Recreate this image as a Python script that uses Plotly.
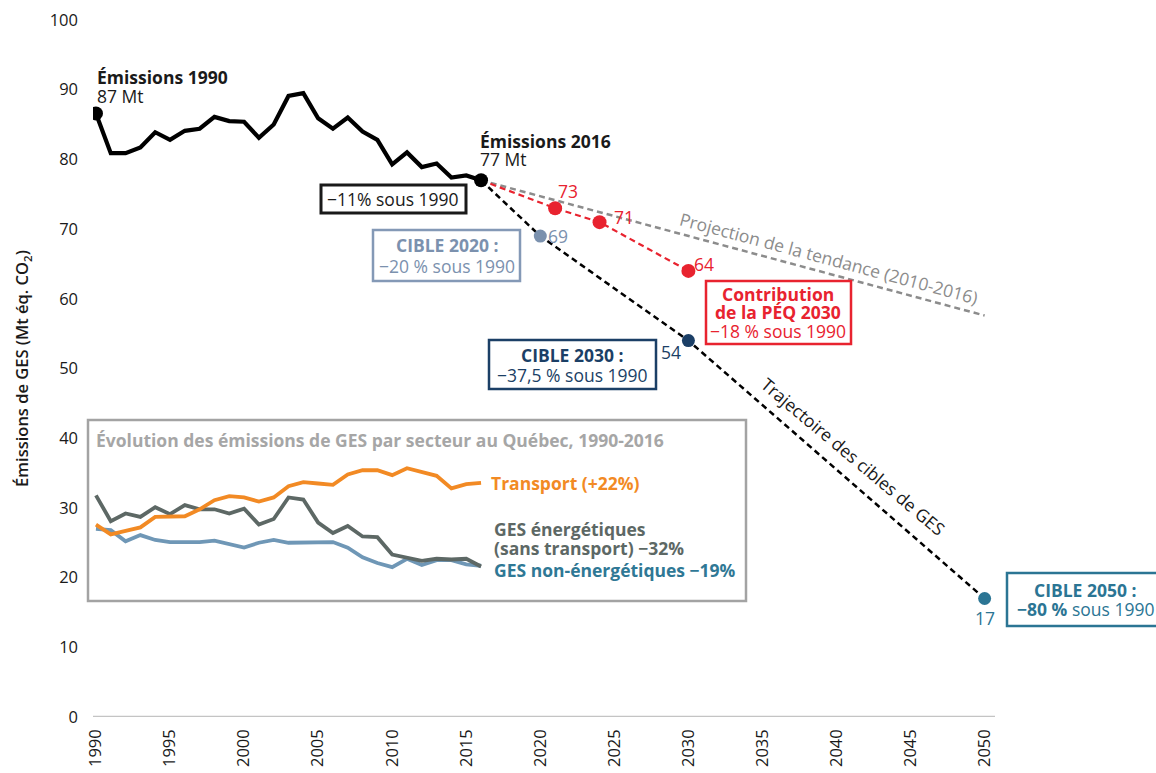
import plotly.graph_objects as go

# Émissions totales de GES du Québec, 1990-2016 (Mt éq. CO2)
years = list(range(1990, 2017))
total = [86.6, 80.9, 80.9, 81.7, 83.9, 82.8, 84.1, 84.4, 86.1, 85.5, 85.4, 83.1, 85.0,
         89.1, 89.5, 85.9, 84.4, 86.0, 84.0, 82.8, 79.3, 81.0, 78.9, 79.4, 77.4, 77.7, 77.0]

# Émissions par secteur (encadré)
transport = [27.6, 26.2, 26.7, 27.2, 28.7, 28.7, 28.8, 29.8, 31.1, 31.7, 31.5, 30.9, 31.5,
             33.1, 33.7, 33.5, 33.3, 34.8, 35.4, 35.4, 34.7, 35.7, 35.1, 34.6, 32.8, 33.4, 33.6]
energetiques = [31.8, 28.1, 29.2, 28.7, 30.1, 29.1, 30.4, 29.8, 29.8, 29.2, 29.9, 27.6, 28.4,
                31.5, 31.2, 27.9, 26.4, 27.4, 25.9, 25.8, 23.3, 22.9, 22.4, 22.7, 22.6, 22.7, 21.6]
non_energetiques = [27.0, 26.8, 25.2, 26.1, 25.4, 25.1, 25.1, 25.1, 25.3, 24.8, 24.3, 25.0, 25.4,
                    25.0, 25.0, 25.1, 25.1, 24.3, 22.9, 22.1, 21.5, 22.7, 21.8, 22.5, 22.5, 21.9, 21.7]

# Trajectoire des cibles
cible_years = [2016, 2020, 2030, 2050]
cible_values = [77, 69, 54, 17]

# Contribution du plan (PÉQ 2030)
peq_years = [2016, 2021, 2024, 2030]
peq_values = [77, 73, 71, 64]

# Projection de la tendance 2010-2016
proj_years = [2016, 2050]
proj_values = [77, 57.6]

x_ticks = list(range(1990, 2051, 5))
y_ticks = list(range(0, 101, 10))

INK = "#1a1a1a"
RED = "#e8232f"
C2020 = "#7b91ae"
C2030 = "#1b3f66"
C2050 = "#2b7594"
ORANGE = "#f28a24"
DARKGRAY = "#5d6865"
BLUEGRAY = "#6f97b6"
FONT = "Open Sans"
FS = 17.5

# plot area geometry (pixels) used to place free text and frames
L, T, W, H = 93, 20, 902, 697


def px(x):
    return (x - L) / W


def py(y):
    return (T + H - y) / H


fig = go.Figure()

# sector lines
fig.add_trace(go.Scatter(x=years, y=non_energetiques, mode="lines",
                         line=dict(color=BLUEGRAY, width=3.8), hoverinfo="skip"))
fig.add_trace(go.Scatter(x=years, y=energetiques, mode="lines",
                         line=dict(color=DARKGRAY, width=3.8), hoverinfo="skip"))
fig.add_trace(go.Scatter(x=years, y=transport, mode="lines",
                         line=dict(color=ORANGE, width=3.8), hoverinfo="skip"))

# projection
fig.add_trace(go.Scatter(x=proj_years, y=proj_values, mode="lines",
                         line=dict(color="#8c8c8c", width=2.5, dash="6px,4px")))
# target trajectory
fig.add_trace(go.Scatter(x=cible_years, y=cible_values, mode="lines",
                         line=dict(color="black", width=2.5, dash="6px,4px")))
# PÉQ contribution
fig.add_trace(go.Scatter(x=peq_years, y=peq_values, mode="lines",
                         line=dict(color=RED, width=2.2, dash="6px,4px")))
fig.add_trace(go.Scatter(x=peq_years[1:], y=peq_values[1:], mode="markers",
                         marker=dict(color=RED, size=14)))

# target markers
fig.add_trace(go.Scatter(x=cible_years[1:], y=cible_values[1:], mode="markers",
                         marker=dict(color=[C2020, C2030, C2050], size=13)))

# total emissions
fig.add_trace(go.Scatter(x=years, y=total, mode="lines",
                         line=dict(color="black", width=4.2)))
fig.add_trace(go.Scatter(x=[years[0], years[-1]], y=[total[0], total[-1]], mode="markers",
                         marker=dict(color="black", size=14)))


def frame(x0, x1, y0, y1, color, width=2.5, fill="white", layer="above"):
    fig.add_shape(type="rect", xref="paper", yref="paper",
                  x0=px(x0), x1=px(x1), y0=py(y1), y1=py(y0),
                  line=dict(color=color, width=width), fillcolor=fill, layer=layer)


ann = []


def text(x, y, s, color=INK, size=FS, bold=False, anchor="left", angle=0):
    ann.append(dict(x=px(x), y=py(y), xref="paper", yref="paper", showarrow=False,
                    text=f"<b>{s}</b>" if bold else s, xanchor=anchor, yanchor="middle",
                    textangle=angle, font=dict(family=FONT, size=size, color=color)))


def value(x, y, s, color, dx, dy):
    ann.append(dict(x=x, y=y, xref="x", yref="y", showarrow=False, text=s,
                    xshift=dx, yshift=dy, font=dict(family=FONT, size=FS, color=color)))


# inset frame
frame(88, 746, 420, 601, "#a3a3a3", fill="rgba(0,0,0,0)", layer="below")

text(95, 77, "Émissions 1990", bold=True)
text(95, 96, f"{total[0]:.0f} Mt")
text(478, 141, "Émissions 2016", bold=True)
text(478, 159, f"{total[-1]:.0f} Mt")

frame(321, 466, 185, 213, INK, width=3)
text(393, 199, "−11% sous 1990", anchor="center")

value(peq_years[1], peq_values[1], "73", RED, 13, 17)
value(peq_years[2], peq_values[2], "71", RED, 24, 5)
value(peq_years[3], peq_values[3], "64", RED, 16, 7)
value(cible_years[1], cible_values[1], "69", C2020, 18, 0)
value(cible_years[2], cible_values[2], "54", C2030, -17, -11)
value(cible_years[3], cible_values[3], "17", C2050, 0, -19)

frame(373, 520, 230, 281, "#8499b6")
text(447, 245, "CIBLE 2020 :", C2020, bold=True, anchor="center")
text(447, 266, "−20 % sous 1990", C2020, anchor="center")

frame(706, 851, 281, 344, RED)
text(778, 294, "Contribution", RED, bold=True, anchor="center")
text(778, 312, "de la PÉQ 2030", RED, bold=True, anchor="center")
text(778, 331, "−18 % sous 1990", RED, anchor="center")

frame(489, 656, 340, 389, C2030)
text(572, 355, "CIBLE 2030 :", C2030, bold=True, anchor="center")
text(572, 375, "−37,5 % sous 1990", C2030, anchor="center")

frame(1007, 1162, 573, 626, C2050)
text(1085, 590, "CIBLE 2050 :", C2050, bold=True, anchor="center")
text(1085, 609, "<b>−80 %</b> sous 1990", C2050, anchor="center")

text(829, 258, "Projection de la tendance (2010-2016)", color="#8c8c8c", anchor="center", angle=15)
text(853, 456, "Trajectoire des cibles de GES", anchor="center", angle=40)

text(94, 440, "Évolution des émissions de GES par secteur au Québec, 1990-2016",
     color="#a6a6a6", size=17.5, bold=True)
text(489, 483, "Transport (+22%)", color=ORANGE, bold=True)
text(492, 529, "GES énergétiques", color=DARKGRAY, bold=True)
text(492, 548, "(sans transport) −32%", color=DARKGRAY, bold=True)
text(492, 570, "GES non-énergétiques −19%", color="#2f7895", bold=True)

fig.update_layout(
    width=1156, height=773,
    margin=dict(l=L, r=1156 - L - W, t=T, b=773 - T - H),
    paper_bgcolor="white", plot_bgcolor="white",
    showlegend=False,
    annotations=ann,
    font=dict(family=FONT, color=INK),
    xaxis=dict(range=[1989.8, 2050.7], tickvals=x_ticks, ticktext=[str(v) for v in x_ticks],
               tickangle=-90, showgrid=False, zeroline=False, showline=False,
               ticks="", ticklabelstandoff=8, automargin=False,
               tickfont=dict(family=FONT, size=16.5, color=INK)),
    yaxis=dict(range=[0, 100], tickvals=y_ticks, showgrid=False, zeroline=False,
               showline=False, ticks="", ticklabelstandoff=14, automargin=False,
               tickfont=dict(family=FONT, size=16.5, color=INK),
               title=dict(text="Émissions de GES (Mt éq. CO<sub>2</sub>)", standoff=16,
                          font=dict(family=FONT, size=16.5, color=INK, weight=600))),
)
# horizontal baseline at zero
fig.add_shape(type="line", xref="paper", yref="y", x0=0, x1=1, y0=0, y1=0,
              line=dict(color="#c4c4c4", width=2.5), layer="below")

fig.write_html("out.html")
